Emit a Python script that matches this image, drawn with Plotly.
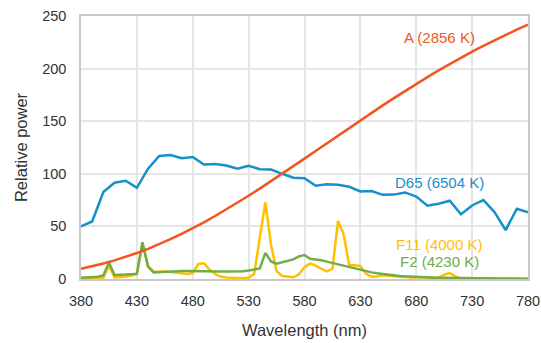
import plotly.graph_objects as go

wl10 = list(range(380, 781, 10))
wl5 = list(range(380, 781, 5))

a_vals = [9.80, 12.09, 14.71, 17.68, 20.99, 24.67, 28.70, 33.09, 37.81, 42.87, 48.24,
          53.91, 59.86, 66.06, 72.50, 79.13, 85.95, 92.91, 100.00, 107.18, 114.44,
          121.73, 129.04, 136.35, 143.62, 150.84, 157.98, 165.03, 171.96, 178.77, 185.43,
          191.93, 198.26, 204.41, 210.36, 216.12, 221.67, 227.00, 232.12, 237.01, 241.68]

d65_vals = [49.98, 54.65, 82.75, 91.49, 93.43, 86.68, 104.86, 117.01, 117.81, 114.86, 115.92,
            108.81, 109.35, 107.80, 104.79, 107.69, 104.41, 104.05, 100.00, 96.33, 95.79,
            88.69, 90.01, 89.60, 87.70, 83.29, 83.70, 80.03, 80.21, 82.28, 78.28,
            69.72, 71.61, 74.35, 61.60, 69.89, 75.09, 63.59, 46.42, 66.81, 63.38]

f11_vals = [0.91, 0.63, 0.46, 0.37, 1.29, 12.68, 1.59, 1.79, 2.46, 3.33, 4.49, 33.94, 12.13,
            6.95, 7.19, 7.12, 6.72, 6.13, 5.46, 4.79, 5.66, 14.29, 14.96, 8.97, 4.72, 2.33,
            1.47, 1.10, 0.89, 0.83, 1.18, 4.90, 39.59, 72.84, 32.61, 7.52, 2.83, 1.96, 1.67,
            4.43, 11.28, 14.76, 12.73, 9.74, 7.33, 9.72, 55.27, 42.58, 13.18, 13.16, 12.26,
            5.11, 2.07, 2.34, 3.58, 3.01, 2.48, 2.14, 1.54, 1.33, 1.46, 1.94, 2.00, 1.20,
            1.35, 4.10, 5.58, 2.51, 0.57, 0.27, 0.23, 0.21, 0.24, 0.24, 0.20, 0.24, 0.32,
            0.26, 0.16, 0.12, 0.09]

f2_vals = [1.18, 1.48, 1.84, 2.15, 3.44, 15.69, 3.85, 3.74, 4.19, 4.62, 5.06, 34.98, 11.81,
           6.27, 6.63, 6.93, 7.19, 7.40, 7.54, 7.62, 7.65, 7.62, 7.62, 7.45, 7.28, 7.15,
           7.05, 7.04, 7.16, 7.47, 8.04, 8.88, 10.01, 24.88, 16.64, 14.59, 16.16, 17.56,
           18.62, 21.47, 22.79, 19.29, 18.66, 17.73, 16.54, 15.21, 13.80, 12.36, 10.95,
           9.65, 8.40, 7.32, 6.31, 5.43, 4.68, 4.02, 3.45, 2.96, 2.55, 2.19, 1.89, 1.64,
           1.53, 1.27, 1.10, 0.99, 0.88, 0.76, 0.68, 0.61, 0.56, 0.54, 0.51, 0.47, 0.47,
           0.43, 0.46, 0.47, 0.40, 0.33, 0.27]

x_ticks = [380, 430, 480, 530, 580, 630, 680, 730, 780]
y_ticks = [0, 50, 100, 150, 200, 250]

c_a = "#F0561E"
c_d65 = "#1590C8"
c_f11 = "#FFC000"
c_f2 = "#70AD47"

fig = go.Figure()
fig.add_trace(go.Scatter(x=wl5, y=f11_vals, mode="lines", line=dict(color=c_f11, width=2.5)))
fig.add_trace(go.Scatter(x=wl5, y=f2_vals, mode="lines", line=dict(color=c_f2, width=2.5)))
fig.add_trace(go.Scatter(x=wl10, y=d65_vals, mode="lines", line=dict(color=c_d65, width=2.5)))
fig.add_trace(go.Scatter(x=wl10, y=a_vals, mode="lines", line=dict(color=c_a, width=2.5)))

font = "Liberation Sans, Arial, sans-serif"
labels = [("A (2856 K)", 229.4, c_a), ("D65 (6504 K)", 91.5, c_d65),
          ("F11 (4000 K)", 32.6, c_f11), ("F2 (4230 K)", 16.4, c_f2)]
for txt, yv, col in labels:
    fig.add_annotation(x=700.8, y=yv, text=txt, showarrow=False,
                       font=dict(family=font, size=15, color=col))

fig.update_layout(
    width=541, height=343,
    margin=dict(l=81, r=13, t=16, b=64, autoexpand=False),
    paper_bgcolor="white", plot_bgcolor="white",
    showlegend=False,
    font=dict(family=font, size=14.5, color="#333333"),
)
fig.update_xaxes(range=[380, 780], tickvals=x_ticks, showgrid=True, gridcolor="#E6E6E6",
                 gridwidth=1.5, showline=True, linecolor="#C8C8C8", linewidth=1.5, mirror=True,
                 zeroline=False, ticks="", ticklabelstandoff=8, automargin=False,
                 title=dict(text="Wavelength (nm)", font=dict(size=16.5, color="#333333"), standoff=16),
                 tickfont=dict(size=14.5, color="#333333"))
fig.update_yaxes(range=[0, 250], tickvals=y_ticks, showgrid=True, gridcolor="#E6E6E6",
                 gridwidth=1.5, showline=True, linecolor="#C8C8C8", linewidth=1.5, mirror=True,
                 zeroline=False, ticks="", ticklabelstandoff=10, automargin=False,
                 title=dict(text="Relative power", font=dict(size=16.5, color="#333333"), standoff=10),
                 tickfont=dict(size=14.5, color="#333333"))

fig.write_html("out.html")
